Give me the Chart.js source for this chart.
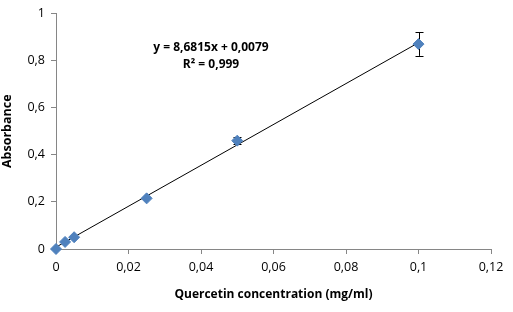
<!DOCTYPE html>
<html><head><meta charset="utf-8">
<script src="https://cdn.jsdelivr.net/npm/chart.js@4"></script>
<style>html,body{margin:0;padding:0;background:#fff}#wrap{width:513px;height:312px}</style>
</head><body><div id="wrap"><canvas id="c" width="513" height="312"></canvas></div>
<script>
const concentrations = [0, 0.0025, 0.005, 0.025, 0.05, 0.1];
const absorbance = [0, 0.03, 0.05, 0.215, 0.46, 0.87];
const errors = [0, 0, 0, 0, 0.016, 0.05];
const slope = 8.6815, intercept = 0.0079;
const trendX = [0, 0.1];
const xTickLabels = ['0','0,02','0,04','0,06','0,08','0,1','0,12'];
const yTickLabels = ['0','0,2','0,4','0,6','0,8','1'];
const equationText = ['y = 8,6815x + 0,0079', 'R² = 0,999'];

const FONT = "'Open Sans', Lato, sans-serif";
const axisGray = '#868686';

const errorBars = {
  id: 'errorBars',
  beforeDatasetsDraw(chart) {
    const {ctx, scales: {x, y}} = chart;
    ctx.save();
    ctx.strokeStyle = '#000'; ctx.lineWidth = 1;
    concentrations.forEach((cx, i) => {
      if (!errors[i]) return;
      const px = Math.round(x.getPixelForValue(cx)) + 0.5;
      const top = y.getPixelForValue(absorbance[i] + errors[i]);
      const bot = y.getPixelForValue(absorbance[i] - errors[i]);
      ctx.beginPath();
      ctx.moveTo(px, top); ctx.lineTo(px, bot);
      ctx.moveTo(px - 4, Math.round(top) + 0.5); ctx.lineTo(px + 4, Math.round(top) + 0.5);
      ctx.moveTo(px - 4, Math.round(bot) + 0.5); ctx.lineTo(px + 4, Math.round(bot) + 0.5);
      ctx.stroke();
    });
    ctx.restore();
  }
};
const equation = {
  id: 'equation',
  afterDraw(chart) {
    const {ctx, chartArea: a} = chart;
    ctx.save();
    ctx.fillStyle = '#000';
    ctx.font = "bold 12px " + FONT;
    ctx.textAlign = 'center'; ctx.textBaseline = 'middle';
    ctx.fillText(equationText[0], a.left + 155, a.top + 34);
    ctx.fillText(equationText[1], a.left + 155, a.top + 51);
    ctx.restore();
  }
};

new Chart(document.getElementById('c'), {
  type: 'scatter',
  data: {
    datasets: [
      {
        type: 'line',
        data: trendX.map(v => ({x: v, y: slope * v + intercept})),
        borderColor: '#000', borderWidth: 1, pointRadius: 0, fill: false, order: 2
      },
      {
        data: concentrations.map((v, i) => ({x: v, y: absorbance[i]})),
        pointStyle: 'rectRot', pointRadius: 5.5, clip: false,
        backgroundColor: '#4F81BD', borderColor: '#4F81BD', borderWidth: 1, order: 1
      }
    ]
  },
  options: {
    responsive: false, animation: false,
    layout: {padding: {top: 12, right: 22, left: 0, bottom: 0}},
    plugins: {legend: {display: false}, tooltip: {enabled: false}},
    scales: {
      x: {
        type: 'linear', min: 0, max: 0.12,
        ticks: {stepSize: 0.02, color: '#000', font: {family: FONT, size: 12.5}, padding: 6,
          callback: (v, i) => xTickLabels[i]},
        grid: {display: true, drawOnChartArea: false, drawTicks: true, tickLength: 5, color: axisGray},
        border: {color: axisGray},
        title: {display: true, text: 'Quercetin concentration (mg/ml)', color: '#000',
          font: {family: FONT, size: 12, weight: 'bold'}, padding: {top: 4, bottom: 10}},
        afterFit(s) { s.height = 63; }
      },
      y: {
        type: 'linear', min: 0, max: 1,
        ticks: {stepSize: 0.2, color: '#000', font: {family: FONT, size: 12.5}, padding: 6,
          callback: (v, i) => yTickLabels[i]},
        grid: {display: true, drawOnChartArea: false, drawTicks: true, tickLength: 5, color: axisGray},
        border: {color: axisGray},
        title: {display: true, text: 'Absorbance', color: '#000',
          font: {family: FONT, size: 12.5, weight: 'bold'}, padding: {top: 0, bottom: 4}},
        afterFit(s) { s.width = 56; }
      }
    }
  },
  plugins: [errorBars, equation]
});
</script>
</body></html>
